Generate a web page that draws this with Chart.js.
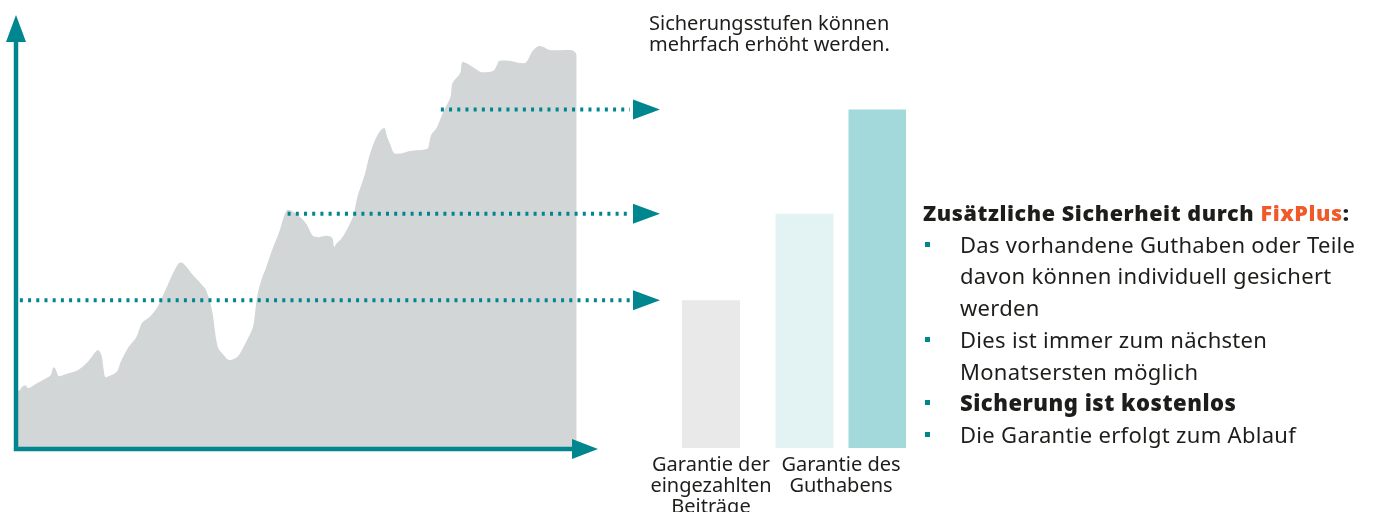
<!DOCTYPE html>
<html lang="de">
<head>
<meta charset="utf-8">
<script src="https://cdn.jsdelivr.net/npm/chart.js@4/dist/chart.umd.min.js"></script>
<style>
  body { margin: 0; background: #fff; font-family: "Noto Sans", sans-serif; color: #1d1d1b; }
  #wrap { position: relative; width: 1373px; height: 512px; overflow: hidden; }
  #verlauf { position: absolute; left: 0; top: 0; }
  #stufen { position: absolute; left: 620px; top: 0; }
  .titel { position: absolute; left: 649px; top: 13px; font-size: 20px; line-height: 20.5px; }
  .info { position: absolute; left: 923px; top: 197px; font-size: 22px; line-height: 31.7px; letter-spacing: 0.3px; }
  .info .kopf { font-weight: 900; font-size: 21.5px; letter-spacing: 0.6px; }
  .info b { font-weight: 900; letter-spacing: 0.5px; }
  .info .fix { color: #f05a28; }
  .info ul { list-style: none; margin: 0; padding: 0; }
  .info li { position: relative; padding-left: 37px; }
  .info li::before { content: ""; position: absolute; left: 2px; top: 13px; width: 5px; height: 5px; background: #00868f; }
</style>
</head>
<body>
<div id="wrap">
  <canvas id="verlauf" width="665" height="512"></canvas>
  <canvas id="stufen" width="340" height="512"></canvas>
  <div class="titel">Sicherungsstufen können<br>mehrfach erhöht werden.</div>
  <div class="info">
    <div class="kopf">Zusätzliche Sicherheit durch <span class="fix">FixPlus</span>:</div>
    <ul>
      <li>Das vorhandene Guthaben oder Teile<br>davon können individuell gesichert<br>werden</li>
      <li>Dies ist immer zum nächsten<br>Monatsersten möglich</li>
      <li><b>Sicherung ist kostenlos</b></li>
      <li>Die Garantie erfolgt zum Ablauf</li>
    </ul>
  </div>
</div>
<script>
// Verlauf des Guthabens (Jahre / Wert in % der Skala)
const jahre = [0, 0.2, 0.3, 0.5, 0.6, 0.7, 1.1, 1.6, 1.8, 1.9, 2.0, 2.1, 2.2, 2.6, 3.2, 3.7, 4.2, 4.4, 4.5, 4.6, 4.8,
  5.2, 5.4, 5.8, 6.2, 6.5, 6.9, 7.3, 7.7, 7.8, 8.1, 8.4, 8.6, 9.0, 9.6, 9.8, 10.1, 10.4, 10.7, 11.0, 11.4, 11.7,
  12.2, 12.3, 12.4, 12.5, 12.7, 12.9, 13.2, 13.6, 13.8, 14.0, 14.3, 14.7, 15.0, 15.3, 15.6, 16.0, 16.3, 16.4, 16.5,
  16.8, 17.1, 17.4, 17.6, 18.0, 18.2, 18.5, 18.8, 19.0, 19.1, 19.3, 19.5, 19.9, 20.3, 21.2, 21.3, 21.4, 21.7, 22.0,
  22.4, 22.5, 22.9, 23.0, 23.2, 23.6, 24.0, 24.6, 24.8, 24.9, 25.5, 26.0, 26.3, 26.6, 26.9, 27.2, 27.5, 28.6, 28.8, 28.9];
const guthaben = [13.0, 13.4, 14.1, 14.5, 13.9, 13.9, 15.0, 16.2, 16.9, 18.5, 18.5, 17.6, 16.6, 17.1, 18.0, 19.9, 22.6, 21.5, 18.7, 16.4, 16.6,
  17.6, 19.9, 23.3, 25.6, 28.9, 30.3, 32.6, 36.5, 37.4, 40.4, 42.7, 42.7, 40.6, 37.6, 36.5, 31.9, 23.3, 21.5, 20.3, 21.0, 23.1,
  27.7, 30.3, 34.2, 36.5, 39.5, 41.8, 45.7, 50.3, 53.3, 55.0, 54.5, 53.1, 51.5, 49.0, 48.7, 49.0, 48.5, 46.4, 47.1,
  48.5, 50.8, 53.8, 58.0, 63.5, 67.2, 71.1, 73.4, 73.9, 72.3, 70.0, 68.1, 68.1, 68.6, 69.1, 70.4, 72.3, 74.1, 77.4,
  81.1, 84.3, 86.6, 89.1, 88.9, 87.8, 86.8, 87.1, 88.5, 89.4, 89.4, 88.9, 89.1, 91.5, 92.8, 92.6, 91.9, 91.9, 91.5, 90.8];

// Sicherungsstufen: Höhe und Zeitpunkt der Erhöhung
const stufen = [34.1, 54.1, 78.2];
const stufenStart = [0.2, 14.0, 21.9];
const kategorien = [["Garantie der", "eingezahlten", "Beiträge"], ["Garantie des", "Guthabens"]];

const TEAL = "#00868f";
const GRAU = "#d2d6d7";

const pfeile = {
  id: "pfeile",
  afterDatasetsDraw(chart) {
    const { ctx, chartArea: a, scales: { x, y } } = chart;
    ctx.save();
    ctx.strokeStyle = TEAL;
    ctx.fillStyle = TEAL;

    // gepunktete Linien zu den Balken
    ctx.lineWidth = 4;
    ctx.setLineDash([3, 5.2]);
    stufen.forEach((v, i) => {
      const py = y.getPixelForValue(v);
      ctx.beginPath();
      ctx.moveTo(x.getPixelForValue(stufenStart[i]), py);
      ctx.lineTo(a.right + 32, py);
      ctx.stroke();
    });
    ctx.setLineDash([]);
    stufen.forEach(v => {
      const py = y.getPixelForValue(v);
      ctx.beginPath();
      ctx.moveTo(a.right + 35, py - 10);
      ctx.lineTo(a.right + 62, py);
      ctx.lineTo(a.right + 35, py + 10);
      ctx.closePath();
      ctx.fill();
    });

    // Achsen mit Pfeilspitzen
    ctx.lineWidth = 4.5;
    ctx.beginPath();
    ctx.moveTo(a.left, a.bottom + 3);
    ctx.lineTo(a.left, a.top + 24);
    ctx.moveTo(a.left - 2, a.bottom + 1);
    ctx.lineTo(a.right - 22, a.bottom + 1);
    ctx.stroke();

    ctx.beginPath();
    ctx.moveTo(a.left, a.top);
    ctx.lineTo(a.left + 10, a.top + 27);
    ctx.lineTo(a.left - 10, a.top + 27);
    ctx.closePath();
    ctx.fill();

    ctx.beginPath();
    ctx.moveTo(a.right, a.bottom + 1);
    ctx.lineTo(a.right - 26, a.bottom - 9);
    ctx.lineTo(a.right - 26, a.bottom + 11);
    ctx.closePath();
    ctx.fill();
    ctx.restore();
  }
};

new Chart(document.getElementById("verlauf"), {
  type: "line",
  data: {
    datasets: [{
      data: jahre.map((j, i) => ({ x: j, y: guthaben[i] })),
      fill: "origin",
      backgroundColor: GRAU,
      borderWidth: 0,
      pointRadius: 0,
      tension: 0.3
    }]
  },
  options: {
    responsive: false,
    animation: false,
    layout: { padding: { left: 16, top: 15, right: 67, bottom: 64 } },
    scales: {
      x: { type: "linear", min: 0, max: 30, display: false },
      y: { min: 0, max: 100, display: false }
    },
    plugins: { legend: { display: false }, tooltip: { enabled: false } }
  },
  plugins: [pfeile]
});

new Chart(document.getElementById("stufen"), {
  type: "bar",
  data: {
    labels: kategorien,
    datasets: [
      { data: [stufen[0], stufen[1]], backgroundColor: ["#e9e9e9", "#e3f3f3"] },
      { data: [null, stufen[2]], backgroundColor: "#a3d9da" }
    ]
  },
  options: {
    responsive: false,
    animation: false,
    skipNull: true,
    datasets: { bar: { categoryPercentage: 1.123, barPercentage: 0.795, maxBarThickness: 58, skipNull: true } },
    layout: { padding: { left: 26, right: 54, top: 15, bottom: 0 } },
    scales: {
      x: {
        grid: { display: false, drawTicks: false },
        border: { display: false },
        ticks: {
          color: "#1d1d1b",
          font: { family: "Noto Sans", size: 20, lineHeight: 1.05 },
          padding: 7,
          maxRotation: 0,
          autoSkip: false
        },
        afterFit(s) { s.height = 64; }
      },
      y: { min: 0, max: 100, display: false }
    },
    plugins: { legend: { display: false }, tooltip: { enabled: false } }
  }
});
</script>
</body>
</html>
